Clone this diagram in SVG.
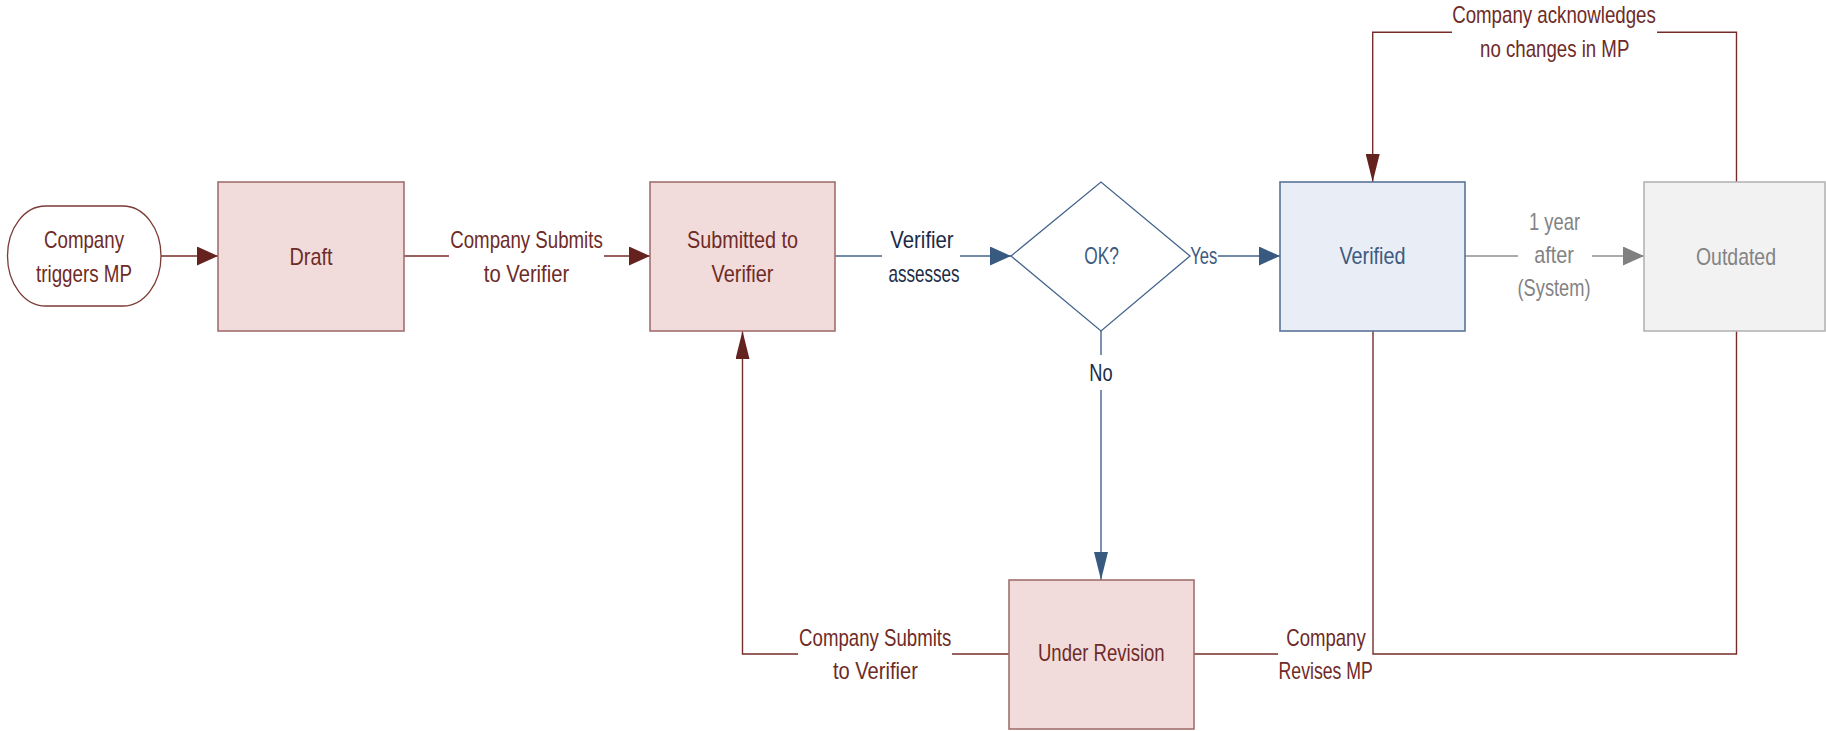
<svg xmlns="http://www.w3.org/2000/svg" width="1826" height="731" viewBox="0 0 1826 731">
<style>
text{font-family:"Liberation Sans",Arial,sans-serif;font-size:24px;text-anchor:middle}
.tr{fill:#6e2b27}
.tb{fill:#3d5a80}
.tn{fill:#1c2b47}
.tg{fill:#838383}
.box-r{fill:#f2dcdb;stroke:#a0706d;stroke-width:1.6}
.box-b{fill:#e9eef6;stroke:#5a7399;stroke-width:1.6}
.box-g{fill:#f2f2f2;stroke:#b4b4b4;stroke-width:1.6}
.lr{fill:none;stroke:#772c28;stroke-width:1.4}
.lb{fill:none;stroke:#45648c;stroke-width:1.4}
.lg{fill:none;stroke:#8f8f8f;stroke-width:1.4}
</style>
<defs>
<marker id="hr" markerUnits="userSpaceOnUse" viewBox="0 0 21 19" refX="21" refY="9.5" markerWidth="21" markerHeight="19" orient="auto"><path d="M0,0 L21,9.5 L0,19 Z" fill="#65231f"/></marker>
<marker id="hb" markerUnits="userSpaceOnUse" viewBox="0 0 21 19" refX="21" refY="9.5" markerWidth="21" markerHeight="19" orient="auto"><path d="M0,0 L21,9.5 L0,19 Z" fill="#385a80"/></marker>
<marker id="hg" markerUnits="userSpaceOnUse" viewBox="0 0 21 19" refX="21" refY="9.5" markerWidth="21" markerHeight="19" orient="auto"><path d="M0,0 L21,9.5 L0,19 Z" fill="#808080"/></marker>
<marker id="vr" markerUnits="userSpaceOnUse" viewBox="0 0 28 14" refX="28" refY="7" markerWidth="28" markerHeight="14" orient="auto"><path d="M0,0 L28,7 L0,14 Z" fill="#65231f"/></marker>
<marker id="vb" markerUnits="userSpaceOnUse" viewBox="0 0 28 14" refX="28" refY="7" markerWidth="28" markerHeight="14" orient="auto"><path d="M0,0 L28,7 L0,14 Z" fill="#385a80"/></marker>
</defs>

<g id="connectors">
  <path class="lr" d="M161,256 L218,256" marker-end="url(#hr)"/>
  <path class="lr" d="M404,256 L449,256"/>
  <path class="lr" d="M604,256 L650,256" marker-end="url(#hr)"/>
  <text class="tr" x="526.5" y="248" textLength="152.6" lengthAdjust="spacingAndGlyphs">Company Submits</text>
  <text class="tr" x="526.5" y="282" textLength="85.4" lengthAdjust="spacingAndGlyphs">to Verifier</text>
  <path class="lb" d="M835,256 L882,256"/>
  <path class="lb" d="M960,256 L1011,256" marker-end="url(#hb)"/>
  <text class="tn" x="922" y="248" textLength="63.3" lengthAdjust="spacingAndGlyphs">Verifier</text>
  <text class="tn" x="924" y="282" textLength="71.2" lengthAdjust="spacingAndGlyphs">assesses</text>
  <path class="lb" d="M1218,256 L1280,256" marker-end="url(#hb)"/>
  <text class="tb" x="1203.8" y="264" textLength="27" lengthAdjust="spacingAndGlyphs">Yes</text>
  <path class="lb" d="M1101,331 L1101,355"/>
  <path class="lb" d="M1101,390 L1101,580" marker-end="url(#vb)"/>
  <text class="tn" x="1101" y="381" textLength="23.3" lengthAdjust="spacingAndGlyphs">No</text>
  <path class="lg" d="M1465,256 L1518,256"/>
  <path class="lg" d="M1592,256 L1644,256" marker-end="url(#hg)"/>
  <text class="tg" x="1554.5" y="230" textLength="51" lengthAdjust="spacingAndGlyphs">1 year</text>
  <text class="tg" x="1554" y="263" textLength="39.7" lengthAdjust="spacingAndGlyphs">after</text>
  <text class="tg" x="1554" y="296" textLength="73" lengthAdjust="spacingAndGlyphs">(System)</text>
  <path class="lr" d="M1736.5,182 L1736.5,32.3 L1657,32.3"/>
  <path class="lr" d="M1452,32.3 L1372.7,32.3 L1372.7,182" marker-end="url(#vr)"/>
  <text class="tr" x="1554" y="23.3" textLength="203.7" lengthAdjust="spacingAndGlyphs">Company acknowledges</text>
  <text class="tr" x="1554.7" y="56.7" textLength="149.3" lengthAdjust="spacingAndGlyphs">no changes in MP</text>
  <path class="lr" d="M1373,331 L1373,654 L1736.5,654 L1736.5,331"/>
  <path class="lr" d="M1278,654 L1194,654"/>
  <text class="tr" x="1326" y="645.7" textLength="79.4" lengthAdjust="spacingAndGlyphs">Company</text>
  <text class="tr" x="1325.7" y="679.3" textLength="94.2" lengthAdjust="spacingAndGlyphs">Revises MP</text>
  <path class="lr" d="M1009,654 L952,654"/>
  <path class="lr" d="M798,654 L742.5,654 L742.5,331" marker-end="url(#vr)"/>
  <text class="tr" x="875.2" y="645.7" textLength="152.2" lengthAdjust="spacingAndGlyphs">Company Submits</text>
  <text class="tr" x="875.4" y="679.3" textLength="85" lengthAdjust="spacingAndGlyphs">to Verifier</text>
</g>

<g id="start">
  <rect x="7.5" y="206" width="153.5" height="100" rx="38" ry="50" fill="#ffffff" stroke="#7b3b36" stroke-width="1.3"/>
  <text class="tr" x="84" y="248" textLength="80" lengthAdjust="spacingAndGlyphs">Company</text>
  <text class="tr" x="84" y="282" textLength="96" lengthAdjust="spacingAndGlyphs">triggers MP</text>
</g>

<g id="draft">
  <rect class="box-r" x="218" y="182" width="186" height="149"/>
  <text class="tr" x="311" y="265" textLength="43" lengthAdjust="spacingAndGlyphs">Draft</text>
</g>

<g id="submitted">
  <rect class="box-r" x="650" y="182" width="185" height="149"/>
  <text class="tr" x="742.5" y="248" textLength="111" lengthAdjust="spacingAndGlyphs">Submitted to</text>
  <text class="tr" x="742.5" y="282" textLength="62" lengthAdjust="spacingAndGlyphs">Verifier</text>
</g>

<g id="decision">
  <polygon points="1011,256 1101,182 1190,256 1101,331" fill="#ffffff" stroke="#45648c" stroke-width="1.3"/>
  <text class="tb" x="1101.5" y="264" textLength="34.7" lengthAdjust="spacingAndGlyphs">OK?</text>
</g>

<g id="verified">
  <rect class="box-b" x="1280" y="182" width="185" height="149"/>
  <text class="tb" x="1372.5" y="264" textLength="66" lengthAdjust="spacingAndGlyphs">Verified</text>
</g>

<g id="outdated">
  <rect class="box-g" x="1644" y="182" width="181" height="149"/>
  <text class="tg" x="1736" y="265" textLength="80" lengthAdjust="spacingAndGlyphs">Outdated</text>
</g>

<g id="under-revision">
  <rect class="box-r" x="1009" y="580" width="185" height="149"/>
  <text class="tr" x="1101.3" y="661" textLength="126.7" lengthAdjust="spacingAndGlyphs">Under Revision</text>
</g>
</svg>
